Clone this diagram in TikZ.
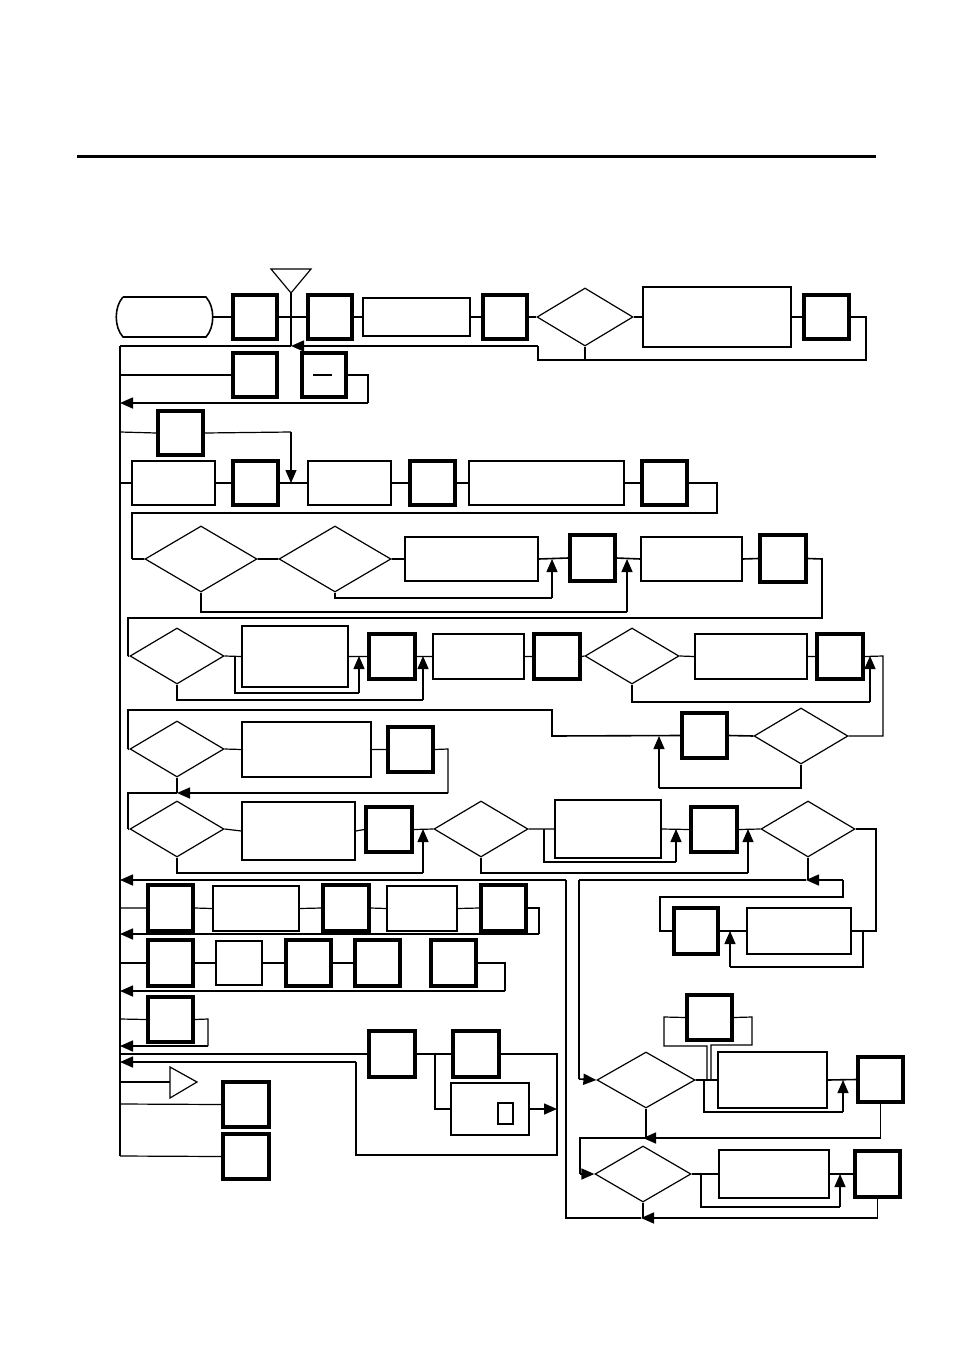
\documentclass[tikz,border=0pt]{standalone}
\usetikzlibrary{shapes.geometric,arrows.meta}
\begin{document}
\begin{tikzpicture}[x=1pt,y=-1pt,
 tk/.style={draw,line width=3.2pt,inner sep=0},
 tn/.style={draw,line width=1.2pt,inner sep=0},
 dm/.style={draw,diamond,line width=1.2pt,inner sep=0},
 ln/.style={line width=1.6pt},
 ar/.style={ln,-{Triangle[length=13pt,width=11pt]}}]
\useasboundingbox (0,0) rectangle (954,1351);
\newcommand{\bx}[6]{\node[#1,minimum width={#5pt-#3pt},minimum height={#6pt-#4pt}] (#2) at ({(#3+#5)/2},{(#4+#6)/2}) {};}
\newcommand{\dmd}[5]{\node[dm,minimum width={2*#4pt},minimum height={2*#5pt}] (#1) at (#2,#3) {};}
\draw[line width=3pt] (77,157)--(876,157);
% row 1
\draw[ln] (123,297)--(206,297) .. controls (215,307) and (215,327) .. (206,337) -- (123,337) .. controls (114,327) and (114,307) .. (123,297);
\coordinate (st) at (212,317);
\bx{tk}{a1}{233}{295}{277}{339}
\bx{tk}{a2}{308}{295}{352}{339}
\bx{tn}{a3}{363}{298}{470}{336}
\bx{tk}{a4}{483}{295}{527}{339}
\dmd{d1}{585}{317}{48}{29}
\bx{tn}{a5}{643}{287}{791}{347}
\bx{tk}{a6}{804}{295}{849}{339}
\draw[tn] (271,269)--(311,269)--(291,293)--cycle;
\coordinate (tr1) at (291,293);
\draw[ln] (st)--(a1.west) (a1.east)--(a2.west) (a2.east)--(a3.west) (a3.east)--(a4.west) (a4.east)--(d1.west) (d1.east)--(a5.west) (a5.east)--(a6.west);
\draw[ln] (a6.east)--(866,317)--(866,360)--(538,360)--(538,346);
\draw[ln] (d1.south)--(585,360);
\draw[ar] (538,346)--(291,346);
\draw[ln] (291,346)--(120,346);
\draw[tn] (tr1)--(291,346);
\draw[ln] (120,346)--(120,1156);
% row 2
\bx{tk}{b1}{233}{353}{277}{397}
\bx{tk}{b2}{302}{353}{346}{397}
\draw[tn] (313,375)--(332,375);
\draw[tn] (120,375)--(b1.west);
\draw[ln] (b2.east)--(368,375)--(368,403);
\draw[ar] (368,403)--(120,403);
% row 3
\bx{tk}{c1}{158}{411}{203}{455}
\draw[tn] (120,432)--(c1.west);
\draw[tn] (c1.east)--(291,432);
\draw[ar,line width=1.2pt] (291,432)--(291,483);
% row 4
\bx{tn}{c2}{132}{461}{215}{505}
\bx{tk}{c3}{233}{461}{278}{505}
\bx{tn}{c4}{308}{461}{391}{505}
\bx{tk}{c5}{410}{461}{455}{505}
\bx{tn}{c6}{469}{461}{624}{505}
\bx{tk}{c7}{642}{461}{687}{505}
\draw[ln] (120,483)--(c2.west) (c2.east)--(c3.west) (c3.east)--(c4.west) (c4.east)--(c5.west) (c5.east)--(c6.west) (c6.east)--(c7.west);
\draw[tn] (c7.east)--(717,483)--(717,513)--(132,513)--(132,559);
% row 5
\dmd{d2}{201}{559}{56}{33}
\dmd{d3}{335}{559}{56}{33}
\bx{tn}{e1}{405}{537}{538}{581}
\bx{tk}{e2}{570}{535}{615}{581}
\bx{tn}{e3}{641}{537}{742}{581}
\bx{tk}{e4}{760}{535}{806}{582}
\draw[ln] (132,559)--(d2.west) (d2.east)--(d3.west) (d3.east)--(e1.west) (e1.east)--(e2.west) (e2.east)--(e3.west) (e3.east)--(e4.west);
\draw[ln] (e4.east)--(822,559)--(822,618)--(128,618)--(128,656);
\draw[tn] (d3.south)--(335,598)--(552,598);
\draw[ar,line width=1.2pt] (552,598)--(552,559);
\draw[tn] (d2.south)--(201,612)--(627,612);
\draw[ar,line width=1.2pt] (627,612)--(627,559);
% row 6
\dmd{d4}{177}{656}{47}{28}
\bx{tn}{f1}{242}{626}{348}{687}
\bx{tk}{f2}{369}{634}{415}{679}
\bx{tn}{f3}{433}{634}{524}{679}
\bx{tk}{f4}{534}{634}{580}{679}
\dmd{d5}{632}{656}{47}{28}
\bx{tn}{f5}{695}{634}{807}{679}
\bx{tk}{f6}{817}{634}{863}{679}
\dmd{d6}{801}{736}{47}{28}
\bx{tk}{f7}{682}{713}{727}{758}
\draw[ln] (128,656)--(d4.west);
\draw[tn] (d4.east)--(f1.west) (f1.east)--(f2.west) (f2.east)--(f3.west) (f3.east)--(f4.west) (f4.east)--(d5.west) (d5.east)--(f5.west) (f5.east)--(f6.west);
\draw[ln] (235,656)--(235,693)--(359,693);
\draw[ar,line width=1.2pt] (359,693)--(359,656);
\draw[tn] (d4.south)--(177,700)--(423,700);
\draw[ar,line width=1.2pt] (423,700)--(423,656);
\draw[tn] (d5.south)--(632,702)--(870,702);
\draw[ar,line width=1.2pt] (870,702)--(870,656);
\draw[tn] (f6.east)--(883,656)--(883,736)--(d6.east);
\draw[ln] (d6.west)--(f7.east);
\draw[ln] (f7.west)--(552,736)--(552,710)--(128,710)--(128,749);
\draw[tn] (d6.south)--(801,788)--(659,788);
\draw[ar,line width=1.2pt] (659,788)--(659,736);
% row 7
\dmd{d7}{177}{749}{47}{28}
\bx{tn}{g1}{242}{722}{371}{777}
\bx{tk}{g2}{388}{727}{433}{772}
\draw[ln] (128,749)--(d7.west);
\draw[tn] (d7.east)--(g1.west) (g1.east)--(g2.west);
\draw[tn] (g2.east)--(448,749)--(448,793);
\draw[ar] (448,793)--(177,793);
\draw[ln] (177,793)--(128,793)--(128,829);
\draw[tn] (d7.south)--(177,793);
% row 8
\dmd{d8}{177}{829}{47}{28}
\bx{tn}{h1}{242}{802}{355}{860}
\bx{tk}{h2}{366}{807}{412}{852}
\dmd{d9}{481}{829}{47}{28}
\bx{tn}{h3}{555}{800}{661}{858}
\bx{tk}{h4}{691}{807}{737}{852}
\dmd{d10}{808}{829}{47}{28}
\draw[ln] (128,829)--(d8.west);
\draw[tn] (d8.east)--(h1.west) (h1.east)--(h2.west) (h2.east)--(d9.west) (d9.east)--(h3.west) (h3.east)--(h4.west) (h4.east)--(d10.west);
\draw[tn] (d8.south)--(177,873)--(423,873);
\draw[ar,line width=1.2pt] (423,873)--(423,829);
\draw[tn] (544,829)--(544,862)--(676,862);
\draw[ar,line width=1.2pt] (676,862)--(676,829);
\draw[tn] (d9.south)--(481,873)--(748,873);
\draw[ar,line width=1.2pt] (748,873)--(748,829);
\bx{tk}{i8}{674}{908}{718}{954}
\bx{tn}{i9}{747}{908}{851}{954}
\draw[tn] (d10.east)--(876,829)--(876,931)--(i9.east);
\draw[ln] (i9.west)--(i8.east);
\draw[tn] (863,931)--(863,967)--(730,967);
\draw[ar,line width=1.2pt] (730,967)--(730,931);
\draw[ln] (i8.west)--(660,931)--(660,897)--(843,897)--(843,880);
\draw[ar] (843,880)--(806,880);
\draw[tn] (d10.south)--(808,880);
\draw[ln] (806,880)--(579,880);
\draw[ar] (566,880)--(120,880);
% row 9
\bx{tk}{j1}{148}{885}{193}{931}
\bx{tn}{j2}{213}{886}{299}{931}
\bx{tk}{j3}{323}{885}{369}{931}
\bx{tn}{j4}{387}{886}{457}{931}
\bx{tk}{j5}{481}{885}{526}{931}
\draw[tn] (120,908)--(j1.west) (j1.east)--(j2.west) (j2.east)--(j3.west) (j3.east)--(j4.west) (j4.east)--(j5.west);
\draw[tn] (j5.east)--(539,908)--(539,934);
\draw[ar] (539,934)--(120,934);
% row 10
\bx{tk}{k1}{148}{940}{193}{986}
\bx{tn}{k2}{216}{941}{262}{985}
\bx{tk}{k3}{286}{940}{331}{986}
\bx{tk}{k4}{355}{940}{400}{986}
\bx{tk}{k5}{431}{940}{476}{986}
\draw[ln] (120,963)--(k1.west) (k1.east)--(k2.west) (k2.east)--(k3.west) (k3.east)--(k4.west);
\draw[tn] (k5.east)--(505,963)--(505,991);
\draw[ar] (505,991)--(120,991);
% row 11
\bx{tk}{l1}{148}{997}{193}{1042}
\draw[tn] (120,1019)--(l1.west);
\draw[tn] (l1.east)--(208,1019)--(208,1046);
\draw[ar] (208,1046)--(120,1046);
% row 12
\bx{tk}{m1}{369}{1031}{415}{1077}
\bx{tk}{m2}{453}{1031}{499}{1077}
\bx{tn}{m3}{451}{1083}{529}{1135}
\bx{tn}{m4}{498}{1103}{513}{1124}
\draw[ln] (120,1054)--(m1.west) (m1.east)--(m2.west);
\draw[ln] (m2.east)--(557,1054)--(557,1155)--(356,1155)--(356,1062);
\draw[ar] (356,1062)--(120,1062);
\draw[tn] (435,1054)--(435,1109)--(m3.west);
\draw[ar] (m3.east)--(557,1109);
\draw[tn] (170,1067)--(197,1082)--(170,1098)--cycle;
\coordinate (tr2) at (170,1082);
\draw[tn] (120,1082)--(tr2);
\bx{tk}{n1}{223}{1082}{269}{1127}
\bx{tk}{n2}{223}{1134}{269}{1179}
\draw[tn] (120,1104)--(n1.west);
\draw[tn] (120,1156)--(n2.west);
% bottom right
\dmd{d11}{646}{1080}{49}{28}
\bx{tk}{p1}{687}{995}{732}{1040}
\bx{tn}{p2}{718}{1052}{827}{1108}
\bx{tk}{p3}{858}{1057}{903}{1102}
\draw[ln] (579,880)--(579,1079);
\draw[ar] (579,1079)--(d11.west);
\draw[tn] (p1.west)--(664,1017)--(664,1046)--(707,1046)--(707,1080);
\draw[tn] (p1.east)--(752,1017)--(752,1045)--(711,1045)--(711,1080);
\draw[ln] (d11.east)--(p2.west) (p2.east)--(p3.west);
\draw[tn] (704,1080)--(704,1112)--(843,1112);
\draw[ar,line width=1.2pt] (843,1112)--(843,1080);
\draw[tn] (p3.south)--(880.5,1138);
\draw[ar] (880.5,1138)--(643,1138);
\draw[ln] (d11.south)--(646,1138)--(580,1138)--(580,1174);
\dmd{d12}{643}{1174}{48}{28}
\bx{tn}{q1}{719}{1150}{829}{1198}
\bx{tk}{q2}{855}{1151}{900}{1197}
\draw[ar] (580,1174)--(d12.west);
\draw[ln] (d12.east)--(q1.west) (q1.east)--(q2.west);
\draw[tn] (701,1174)--(701,1207)--(840,1207);
\draw[ar,line width=1.2pt] (840,1207)--(840,1174);
\draw[tn] (q2.south)--(877.5,1218);
\draw[ar] (877.5,1218)--(641,1218);
\draw[tn] (d12.south)--(643,1218);
\draw[ln] (641,1218)--(566,1218)--(566,880);
\end{tikzpicture}
\end{document}
